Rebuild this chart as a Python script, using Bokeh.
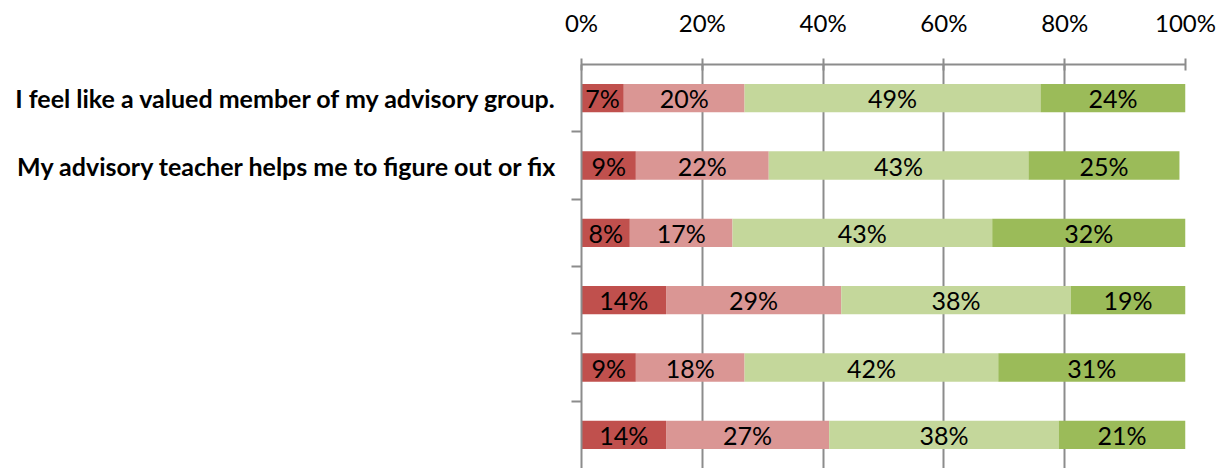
from bokeh.plotting import figure
from bokeh.models import Range1d, FixedTicker, PrintfTickFormatter, ColumnDataSource
from bokeh.core.properties import value
from bokeh.embed import file_html
from bokeh.resources import INLINE

# ---- data ----
labels = [
    "I feel like a valued member of my advisory group.",
    "My advisory teacher helps me to figure out or fix",
    "", "", "", "",
]
strongly_disagree = [7, 9, 8, 14, 9, 14]
disagree = [20, 22, 17, 29, 18, 27]
agree = [49, 43, 43, 38, 42, 38]
strongly_agree = [24, 25, 32, 19, 31, 21]
series = [strongly_disagree, disagree, agree, strongly_agree]
colors = ["#C0504D", "#DA9694", "#C4D79B", "#9BBB59"]
x_ticks = [0, 20, 40, 60, 80, 100]

FONT = "Lato"
GRID = "#8C8C8C"

n = len(labels)
centers = [i + 0.5 for i in range(n)]

p = figure(width=1225, height=468,
           x_range=Range1d(0, 100), y_range=Range1d(n, 0),
           x_axis_location="above",
           output_backend="svg", toolbar_location=None,
           min_border_left=581, min_border_right=40,
           min_border_top=64, min_border_bottom=0)
p.outline_line_color = None
p.background_fill_color = "white"

left = [0] * n
for vals, col in zip(series, colors):
    right = [l + v for l, v in zip(left, vals)]
    src = ColumnDataSource(dict(
        y=centers, left=left, right=right,
        mid=[(l + r) / 2 for l, r in zip(left, right)],
        txt=[f"{v}%" for v in vals],
    ))
    p.hbar(y="y", left="left", right="right", height=0.42, source=src,
           fill_color=col, line_color=None)
    p.text(x="mid", y="y", text="txt", source=src,
           text_align="center", text_baseline="middle",
           text_font=value(FONT), text_font_size="25px", text_color="black")
    left = right

# top axis
xa = p.xaxis[0]
xa.ticker = FixedTicker(ticks=x_ticks)
xa.formatter = PrintfTickFormatter(format="%d%%")
xa.major_label_text_font = FONT
xa.major_label_text_font_size = "24px"
xa.major_label_text_color = "black"
xa.major_label_standoff = 22
xa.major_tick_in = 6
xa.major_tick_out = 6
xa.minor_tick_in = 0
xa.minor_tick_out = 0
xa.axis_line_color = GRID
xa.axis_line_width = 2
xa.major_tick_line_color = GRID
xa.major_tick_line_width = 2

# left axis
ya = p.yaxis[0]
ya.ticker = FixedTicker(ticks=centers, minor_ticks=[i for i in range(1, n)])
ya.major_label_overrides = {c: lab for c, lab in zip(centers, labels)}
ya.major_label_text_font = FONT
ya.major_label_text_font_style = "bold"
ya.major_label_text_font_size = "25px"
ya.major_label_text_color = "black"
ya.major_label_standoff = 14
ya.major_tick_in = 0
ya.major_tick_out = 0
ya.minor_tick_in = 0
ya.minor_tick_out = 10
ya.minor_tick_line_color = GRID
ya.minor_tick_line_width = 2
ya.axis_line_color = GRID
ya.axis_line_width = 2

p.xgrid.ticker = FixedTicker(ticks=x_ticks)
p.xgrid.grid_line_color = GRID
p.xgrid.grid_line_width = 2
p.ygrid.grid_line_color = None

open("out.html", "w").write(file_html(p, INLINE))
